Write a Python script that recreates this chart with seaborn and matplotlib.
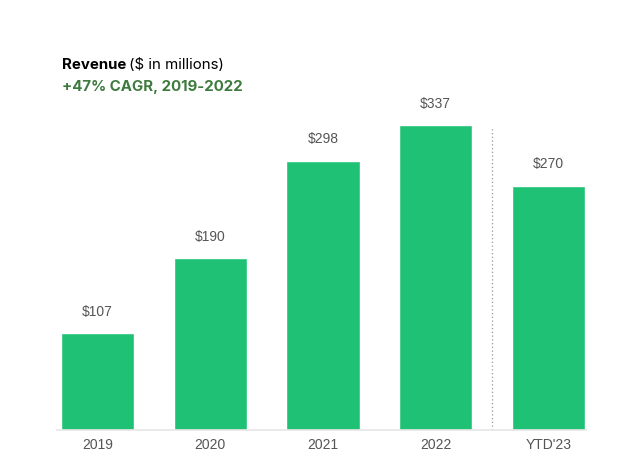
import matplotlib
matplotlib.use("Agg")
import matplotlib.pyplot as plt
import seaborn as sns
import pandas as pd

years = ["2019", "2020", "2021", "2022", "YTD'23"]
revenue = [107, 190, 298, 337, 270]
labels = ["$107", "$190", "$298", "$337", "$270"]

sns.set_style("white")
plt.rcParams["font.family"] = ["Inter", "DejaVu Sans"]

df = pd.DataFrame({"year": years, "revenue": revenue})

fig = plt.figure(figsize=(6.17, 4.61), dpi=100)
ax = fig.add_axes([0.0665, 0.0672, 0.914, 0.716])
sns.barplot(data=df, x="year", y="revenue", color="#1fc174", saturation=1,
            width=0.65, ax=ax)

for i, (v, lab) in enumerate(zip(revenue, labels)):
    ax.text(i, v + 16, lab, ha="center", va="bottom", fontsize=10,
            color="#555555", family="Liberation Sans")

ax.vlines(3.5, 0, 334, colors="#999999", linestyles=(0, (1, 2)), linewidth=0.9)

ax.set_xlim(-0.5, 4.5)
ax.set_ylim(0, 365)
ax.set_xlabel("")
ax.set_ylabel("")
ax.set_yticks([])
ax.tick_params(axis="x", length=0, labelsize=10, labelcolor="#555555", pad=6)
for t in ax.get_xticklabels():
    t.set_family("Liberation Sans")
for s in ["top", "right", "left"]:
    ax.spines[s].set_visible(False)
ax.spines["bottom"].set_color("#e6e6e6")
ax.spines["bottom"].set_linewidth(1.2)
ax.spines["bottom"].set_bounds(-0.36, 4.33)

t1 = fig.text(62 / 617, 1 - 65 / 461, "Revenue", fontsize=10.8, fontweight="bold",
              color="black", va="center")
fig.canvas.draw()
bb = t1.get_window_extent()
fig.text(bb.x1 / fig.bbox.width + 0.004, 1 - 65 / 461, "($ in millions)", fontsize=10.8,
         color="black", va="center")
fig.text(62 / 617, 1 - 87 / 461, "+47% CAGR, 2019-2022", fontsize=10.8,
         fontweight="bold", color="#3d7a3d", va="center")

fig.savefig("out.png", dpi=100)
